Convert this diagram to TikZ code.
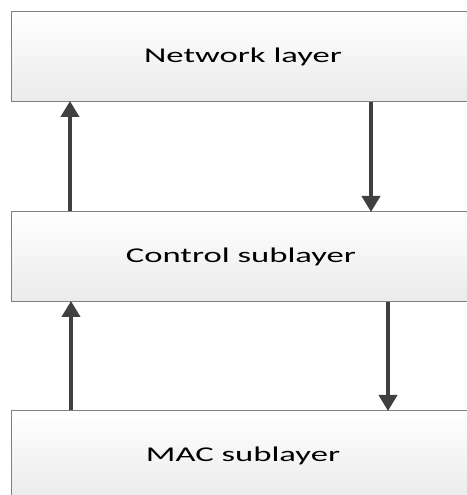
\documentclass[tikz,border=0pt]{standalone}
\usepackage{fontspec}
\newfontfamily\widefont[FakeStretch=1.65]{Carlito}
\usetikzlibrary{arrows.meta}
\definecolor{arrowgray}{HTML}{404040}
\definecolor{boxline}{HTML}{808080}
\tikzset{
  x=1pt,y=1pt,
  layerbox/.style={draw=boxline, line width=1pt, top color=white, bottom color=black!8,
    minimum width=470pt, minimum height=90pt, inner sep=0pt, anchor=north west,
    font=\widefont\fontsize{21}{24}\selectfont, text=black},
  arr/.style={draw=arrowgray, line width=4pt, -{Triangle[width=18pt,length=16pt]}, shorten >=-1pt}
}
\begin{document}
\begin{tikzpicture}
\useasboundingbox (0,0) rectangle (466,495);
\node[layerbox] (net) at (11,484) {\hspace*{-7pt}\raisebox{2pt}{Network layer}};
\node[layerbox] (ctl) at (11,284) {\hspace*{-11pt}\raisebox{-1pt}{Control sublayer}};
\node[layerbox] (mac) at (11,85) {\hspace*{-7pt}\raisebox{1pt}{MAC sublayer}};
\coordinate (xa) at (70,0);
\coordinate (xb) at (371,0);
\coordinate (xc) at (71,0);
\coordinate (xd) at (388,0);
\draw[arr] (ctl.north -| xa) -- (net.south -| xa);
\draw[arr] (net.south -| xb) -- (ctl.north -| xb);
\draw[arr] (mac.north -| xc) -- (ctl.south -| xc);
\draw[arr] (ctl.south -| xd) -- (mac.north -| xd);
\end{tikzpicture}
\end{document}
